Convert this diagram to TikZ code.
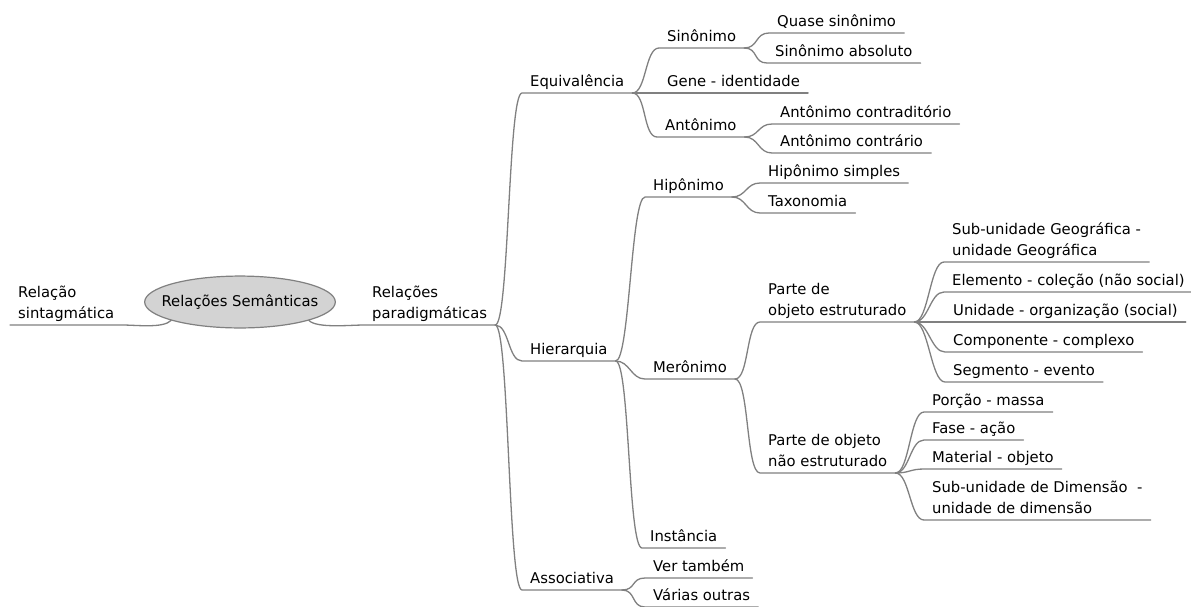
\documentclass[tikz,border=0pt]{standalone}
\usepackage{fontspec}
\setmainfont{DejaVu Sans}
\usepackage{tikz}
\usetikzlibrary{shapes.geometric}

\definecolor{branchgray}{HTML}{808080}
\definecolor{hubfill}{HTML}{D3D3D3}

\begin{document}
\begin{tikzpicture}[
            x=1pt, y=-1pt,
            topic_node/.style={anchor=south west, inner xsep=8pt, inner ysep=0pt, text depth=6pt, align=left, font=\fontsize{14.8}{21}\selectfont},
            hub_node/.style={ellipse, draw=branchgray, fill=hubfill, line width=1.2pt, inner xsep=-11pt, inner ysep=11pt, font=\fontsize{14.8}{21}\selectfont},
            link/.style={draw=branchgray, line width=1.3pt, line cap=round, line join=round}
        ]
            \useasboundingbox (0,0) rectangle (1191,606);

            % The centre and its two sides
            \node[hub_node] (root) at (240,302) {Relações Semânticas};
            \node[topic_node] (sint) at (10,325) {Relação\\sintagmática};
            \node[topic_node] (parad) at (364,325) {Relações\\paradigmáticas};

            % First level
            \node[topic_node] (equiv) at (522,93) {Equivalência};
            \node[topic_node] (hier) at (522,361) {Hierarquia};
            \node[topic_node] (assoc) at (522,590) {Associativa};

            % Equivalencia
            \node[topic_node] (sinon) at (659,48) {Sinônimo};
            \node[topic_node] (gene) at (659,93) {Gene - identidade};
            \node[topic_node] (anton) at (657,137) {Antônimo};
            \node[topic_node] (quase) at (769,33) {Quase sinônimo};
            \node[topic_node] (sinabs) at (767,63) {Sinônimo absoluto};
            \node[topic_node] (contrad) at (772,124) {Antônimo contraditório};
            \node[topic_node] (contrar) at (772,153) {Antônimo contrário};

            % Hierarquia
            \node[topic_node] (hipon) at (645,197) {Hipônimo};
            \node[topic_node] (meron) at (645,379) {Merônimo};
            \node[topic_node] (inst) at (642,548) {Instância};
            \node[topic_node] (hipsimp) at (760,183) {Hipônimo simples};
            \node[topic_node] (taxon) at (760,213) {Taxonomia};
            \node[topic_node] (estr) at (760,322) {Parte de\\objeto estruturado};
            \node[topic_node] (naoestr) at (760,473) {Parte de objeto\\não estruturado};
            \node[topic_node] (geog) at (944,262) {Sub-unidade Geográfica -\\unidade Geográfica};
            \node[topic_node] (elem) at (944,292) {Elemento - coleção (não social)};
            \node[topic_node] (unid) at (945,322) {Unidade - organização (social)};
            \node[topic_node] (comp) at (945,352) {Componente - complexo};
            \node[topic_node] (segm) at (945,382) {Segmento - evento};
            \node[topic_node] (porc) at (924,412) {Porção - massa};
            \node[topic_node] (fase) at (924,440) {Fase - ação};
            \node[topic_node] (mater) at (924,469) {Material - objeto};
            \node[topic_node] (dimen) at (924,520) {Sub-unidade de Dimensão~~-\\unidade de dimensão};

            % Associativa
            \node[topic_node] (vertb) at (645,578) {Ver também};
            \node[topic_node] (varias) at (645,607) {Várias outras};

            % Branches
            \draw[link] (sint.south west) -- (sint.south east) .. controls +(14,0) and +(-8,8) .. (root.195);
            \draw[link] (root.-15) .. controls +(8,8) and +(-14,0) .. (parad.south west) -- (parad.south east);
            \foreach \a/\b in {parad/equiv, parad/hier, parad/assoc,
                    equiv/sinon, equiv/gene, equiv/anton, sinon/quase, sinon/sinabs, anton/contrad, anton/contrar,
                    hier/hipon, hier/meron, hier/inst, hipon/hipsimp, hipon/taxon, meron/estr, meron/naoestr,
                    estr/geog, estr/elem, estr/unid, estr/comp, estr/segm,
                    naoestr/porc, naoestr/fase, naoestr/mater, naoestr/dimen,
                    assoc/vertb, assoc/varias}
                \draw[link] (\a.south east) .. controls +(14,0) and +(-14,0) .. (\b.south west) -- (\b.south east);
        \end{tikzpicture}
\end{document}
